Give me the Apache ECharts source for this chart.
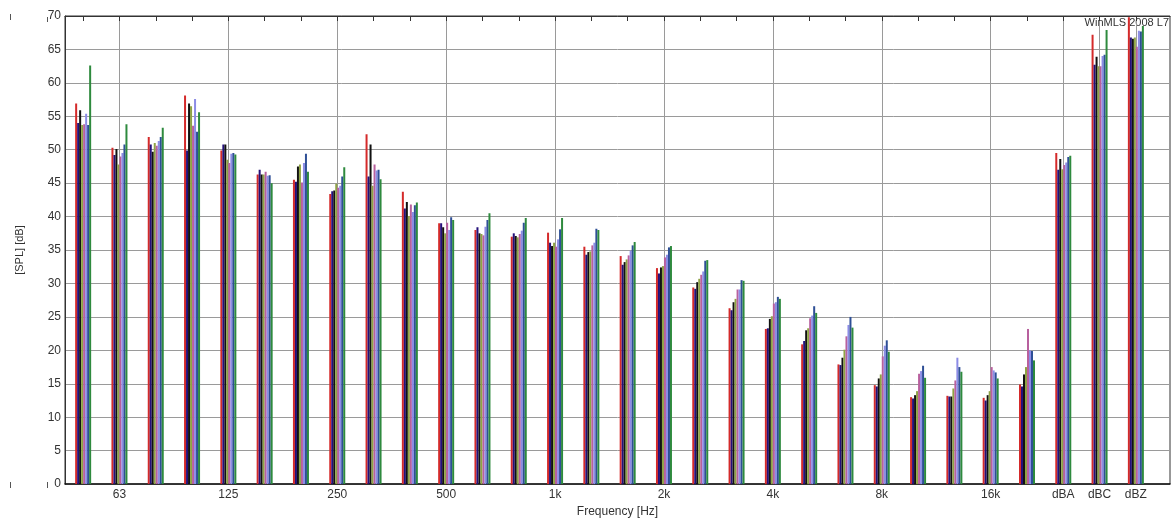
<!DOCTYPE html>
<html>
<head>
<meta charset="utf-8">
<style>
  html, body { margin: 0; padding: 0; background: #ffffff; }
  #chart { width: 1172px; height: 523px; }
</style>
<script src="https://cdn.jsdelivr.net/npm/echarts@6/dist/echarts.min.js"></script>
</head>
<body>
<div id="chart"></div>
<script>
// 1/3-octave bands plus the weighted totals
const categories = ['50','63','80','100','125','160','200','250','315','400','500','630','800','1k','1.25k','1.6k','2k','2.5k','3.15k','4k','5k','6.3k','8k','10k','12.5k','16k','20k','dBA','dBC','dBZ'];
// Labels printed under the axis (octave bands and the totals)
const tickLabels = ['','63','','','125','','','250','','','500','','','1k','','','2k','','','4k','','','8k','','','16k','','dBA','dBC','dBZ'];
const yTicks = [0, 5, 10, 15, 20, 25, 30, 35, 40, 45, 50, 55, 60, 65, 70];

// SPL per band [dB], one array per measurement curve
const curve1 = [56.9,50.3,51.9,58.1,49.9,46.3,45.5,43.4,52.3,43.7,39.0,38.0,37.0,37.6,35.5,34.1,32.3,29.4,26.3,23.2,20.9,17.9,14.8,13.0,13.2,12.9,14.9,49.5,67.2,69.8];
const curve2 = [54.0,49.2,50.8,49.9,50.8,47.0,45.2,43.8,46.0,41.2,39.0,38.4,37.5,36.1,34.3,32.8,31.5,29.2,26.0,23.3,21.4,17.8,14.6,12.8,13.1,12.5,14.6,47.0,62.7,66.8];
const curve3 = [55.9,50.1,49.7,56.9,50.8,46.3,47.5,43.9,50.8,42.2,38.4,37.5,37.1,35.6,34.7,33.2,32.4,30.2,27.2,24.7,23.0,18.9,15.8,13.3,13.1,13.3,16.4,48.6,63.9,66.6];
const curve4 = [53.7,47.8,51.0,56.5,48.5,46.3,47.8,44.9,44.6,40.1,37.5,37.4,36.9,36.1,34.8,33.6,32.6,30.7,27.7,25.1,23.3,20.1,16.4,13.9,14.3,13.9,17.5,47.1,62.5,66.8];
const curve5 = [53.8,49.0,50.6,53.6,48.0,46.7,45.1,44.3,47.8,41.8,39.1,37.2,37.4,35.5,35.7,34.2,33.9,31.3,29.1,27.0,24.8,22.1,19.1,16.5,15.5,17.5,23.2,47.7,62.5,65.4];
const curve6 = [55.4,49.5,51.3,57.6,49.4,46.1,48.0,44.6,46.9,40.7,38.0,38.5,37.9,36.6,36.1,34.9,34.3,31.8,29.1,27.2,25.2,23.8,20.7,16.9,18.9,17.0,20.0,48.1,64.0,67.8];
const curve7 = [53.7,50.8,51.9,52.7,49.5,46.2,49.4,46.0,47.0,41.7,39.9,39.5,39.1,38.1,38.2,35.7,35.4,33.4,30.5,28.0,26.6,25.0,21.5,17.7,17.5,16.7,19.9,48.9,64.2,67.7];
const curve8 = [62.6,53.8,53.3,55.6,49.3,45.0,46.7,47.4,45.6,42.1,39.5,40.5,39.8,39.8,38.0,36.2,35.6,33.5,30.4,27.7,25.6,23.4,19.8,15.9,16.8,15.8,18.5,49.1,67.9,68.5];

const curves = [curve1, curve2, curve3, curve4, curve5, curve6, curve7, curve8];
const colors = ['#d42a2a', '#24107a', '#111111', '#8fa345', '#b8609e', '#8c8ce6', '#2e4f96', '#2e8a3e'];

const bandIdx = categories.map((_, i) => i);
const labelIdx = bandIdx.filter(i => tickLabels[i] !== '');

const chart = echarts.init(document.getElementById('chart'), null, { renderer: 'canvas' });

const font = 'Liberation Sans, Arial, sans-serif';

chart.setOption({
  animation: false,
  backgroundColor: '#ffffff',
  grid: {
    left: 65, right: 2, top: 16, bottom: 36,
    show: true, borderColor: '#333333', borderWidth: 1, backgroundColor: 'transparent'
  },
  xAxis: [
    {
      type: 'value', position: 'bottom',
      min: -0.5, max: 29.94,
      name: 'Frequency [Hz]', nameLocation: 'middle', nameGap: 20,
      nameTextStyle: { fontFamily: font, fontSize: 12, color: '#333333' },
      axisLine: { show: true, onZero: false, lineStyle: { color: '#111111', width: 1.5 } },
      axisTick: { show: false, customValues: labelIdx },
      axisLabel: {
        customValues: labelIdx, margin: 5,
        fontFamily: font, fontSize: 12, color: '#333333',
        formatter: v => tickLabels[Math.round(v)]
      },
      splitLine: { show: true, lineStyle: { color: '#9a9a9a', width: 1 } }
    },
    {
      type: 'value', position: 'top',
      min: -0.5, max: 29.94,
      axisLine: { show: true, onZero: false, lineStyle: { color: '#333333', width: 1 } },
      axisTick: { show: true, inside: true, length: 5, customValues: bandIdx, lineStyle: { color: '#333333' } },
      axisLabel: { show: false, customValues: bandIdx },
      splitLine: { show: false }
    }
  ],
  yAxis: {
    type: 'value', min: yTicks[0], max: yTicks[yTicks.length - 1], interval: 5,
    name: '[SPL] [dB]', nameLocation: 'middle', nameGap: 40,
    nameTextStyle: { fontFamily: font, fontSize: 11, color: '#333333' },
    axisLine: { show: true, onZero: false, lineStyle: { color: '#333333', width: 1 } },
    axisTick: { show: false },
    axisLabel: { margin: 4, fontFamily: font, fontSize: 12, color: '#333333' },
    splitLine: { show: true, lineStyle: { color: '#9a9a9a', width: 1 } }
  },
  graphic: [
    {
      type: 'text', right: 3, top: 17, z: 0, silent: true,
      style: { text: 'WinMLS 2008 L7', font: '11px ' + font, fill: '#333333' }
    },
    { type: 'line', silent: true, shape: { x1: 10.5, y1: 14, x2: 10.5, y2: 20 }, style: { stroke: '#555555', lineWidth: 1 } },
    { type: 'line', silent: true, shape: { x1: 47.5, y1: 17, x2: 47.5, y2: 22 }, style: { stroke: '#555555', lineWidth: 1 } },
    { type: 'line', silent: true, shape: { x1: 10.5, y1: 482, x2: 10.5, y2: 488 }, style: { stroke: '#555555', lineWidth: 1 } },
    { type: 'line', silent: true, shape: { x1: 47.5, y1: 482, x2: 47.5, y2: 488 }, style: { stroke: '#555555', lineWidth: 1 } }
  ],
  series: curves.map((vals, k) => ({
    type: 'bar',
    name: 'Curve ' + (k + 1),
    xAxisIndex: 0,
    barWidth: 2,
    barGap: '0%',
    itemStyle: { color: colors[k] },
    data: vals.map((v, i) => [i, v])
  }))
});
</script>
</body>
</html>
